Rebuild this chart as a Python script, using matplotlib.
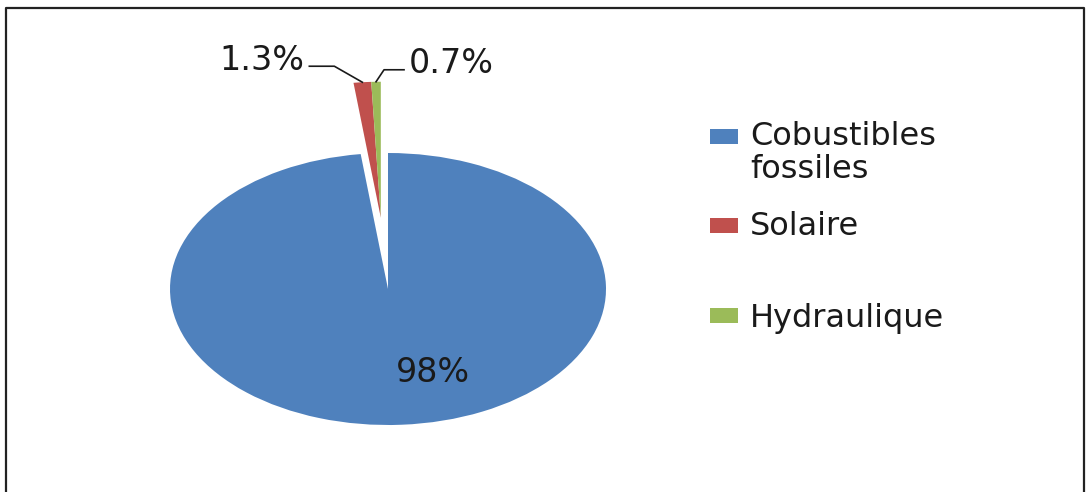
import numpy as np
import matplotlib.pyplot as plt
from matplotlib.patches import Rectangle

labels = ["Cobustibles\nfossiles", "Solaire", "Hydraulique"]
shares = [98, 1.3, 0.7]
pct_labels = ["98%", "1.3%", "0.7%"]
colors = ["#4F81BD", "#C0504D", "#9BBB59"]
pulled_out = [False, True, True]

W, H = 1087, 492
fig = plt.figure(figsize=(W / 100, H / 100), dpi=100)

# pie centre and radii in pixels (the Excel pie is squashed)
cx, cy, rx, ry = 388, 289, 218, 136
ax = fig.add_axes([0, 0, 1, 1])
wedges, _ = ax.pie(shares, colors=colors, startangle=90,
                   counterclock=False, wedgeprops=dict(linewidth=0))
ax.set_aspect("auto")
ax.set_xlim(-cx / rx, (W - cx) / rx)
ax.set_ylim(-(H - cy) / ry, cy / ry)
ax.axis("off")

# Excel pulls the small slices out together, along their common mid angle
group = [w for w, p in zip(wedges, pulled_out) if p]
gmid = np.deg2rad((min(w.theta1 for w in group) + max(w.theta2 for w in group)) / 2)
for w in group:
    w.set_center((0.525 * np.cos(gmid), 0.525 * np.sin(gmid)))


def to_data(px, py):
    return (px - cx) / rx, (cy - py) / ry


txt = dict(fontsize=24, color="#1a1a1a")
ax.text(*to_data(433, 372), pct_labels[0], ha="center", va="center", **txt)

# leader lines for the small exploded slices
for i, (dx, dy, run, side) in zip([1, 2], [(-28, 16, -25, "right"), (8, 12, 20, "left")]):
    w = wedges[i]
    mid = np.deg2rad((w.theta1 + w.theta2) / 2)
    tip = (w.center[0] + w.r * np.cos(mid), w.center[1] + w.r * np.sin(mid))
    elbow = (tip[0] + dx / rx, tip[1] + dy / ry)
    end = (elbow[0] + run / rx, elbow[1])
    ax.plot([tip[0], elbow[0], end[0]], [tip[1], elbow[1], end[1]],
            color="#1a1a1a", lw=1.2)
    off = -5 if side == "right" else 5
    ax.text(end[0] + off / rx, end[1] + 6 / ry, pct_labels[i], ha=side, va="center", **txt)

# overlay in pixel coordinates for legend and frame
ov = fig.add_axes([0, 0, 1, 1])
ov.set_xlim(0, W)
ov.set_ylim(H, 0)
ov.axis("off")

for lab, col, sq_y, base_y in zip(labels, colors, [136, 225, 315], [178, 235, 327]):
    ov.add_patch(Rectangle((710, sq_y - 7.5), 28, 15, color=col, lw=0))
    ov.text(750, base_y, lab, ha="left", va="baseline", fontsize=23,
            color="#1a1a1a", linespacing=1.1)

ov.plot([6, 6, 1084, 1084], [H + 5, 8, 8, H + 5], color="#222222", lw=1.6, clip_on=False)

fig.savefig("out.png", dpi=100)
